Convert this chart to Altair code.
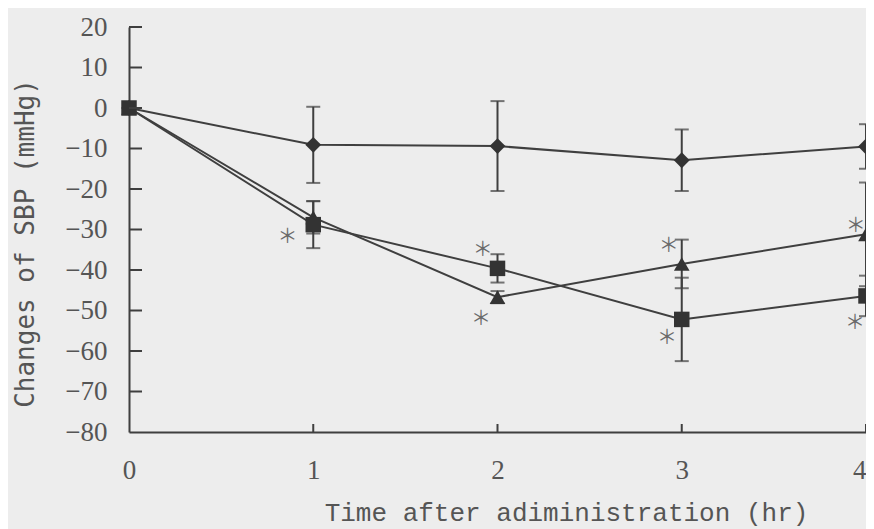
import altair as alt
import pandas as pd

# ---- data ----
times = [0, 1, 2, 3, 4]
diamond_mean = [0, -9.1, -9.4, -12.9, -9.5]
diamond_err = [0, 9.4, 11.1, 7.6, 5.5]
triangle_mean = [0, -27.0, -46.7, -38.5, -31.2]
triangle_err = [0, 4.0, 1.5, 6.0, 12.8]
square_mean = [0, -28.8, -39.6, -52.2, -46.4]
square_err = [0, 5.8, 3.5, 10.3, 5.0]

series_names = ["diamond", "triangle", "square"]
series_shapes = ["diamond", "triangle-up", "square"]
series_sizes = [250, 240, 190]

# significance asterisks (annotation positions in data units)
star_x = [0.86, 1.92, 1.91, 2.93, 2.92, 3.945, 3.94]
star_y = [-31.9, -35.1, -52.1, -34.1, -56.8, -29.1, -53.1]

x_tick_values = [0, 1, 2, 3, 4]
x_inner_ticks = [1, 2, 3, 4]
y_tick_values = [20, 10, 0, -10, -20, -30, -40, -50, -60, -70, -80]
y_inner_ticks = [20, 10, 0, -10, -20, -30, -40, -50, -60, -70]

# ---- build tables ----
rows = []
for name, means, errs in [("diamond", diamond_mean, diamond_err),
                          ("triangle", triangle_mean, triangle_err),
                          ("square", square_mean, square_err)]:
    for t, m, e in zip(times, means, errs):
        rows.append({"series": name, "time": t, "value": m, "err": e,
                     "lo": m - e, "hi": m + e})
df = pd.DataFrame(rows)
df_err = df[df["err"] > 0].copy()
stars = pd.DataFrame({"x": star_x, "y": star_y, "s": ["＊"] * len(star_x)})
xt = pd.DataFrame({"t": x_inner_ticks})
yt = pd.DataFrame({"v": y_inner_ticks})

W, H = 737, 405
LINE = "#3f3f3f"
TXT = "#555555"

xscale = alt.Scale(domain=[0, 4], nice=False, zero=False)
yscale = alt.Scale(domain=[-80, 20], nice=False, zero=False)

xaxis = alt.Axis(values=x_tick_values, format="d", ticks=False, grid=False,
                 domainColor=LINE, domainWidth=2,
                 labelFont="Liberation Serif", labelFontSize=27, labelColor=TXT,
                 labelPadding=25, labelFlush=False,
                 labelAlign={"expr": "datum.value == 4 ? 'right' : 'center'"},
                 title="Time after adiministration (hr)",
                 titleFont="Liberation Mono", titleFontSize=26,
                 titleFontWeight="normal", titleColor=TXT,
                 titleX=437, titleY=88, titleAlign="center",
                 titleBaseline="alphabetic", titleAnchor="start")
yaxis = alt.Axis(values=y_tick_values, format="d", ticks=False, grid=False,
                 domainColor=LINE, domainWidth=2,
                 labelFont="Liberation Serif", labelFontSize=27, labelColor=TXT,
                 labelPadding=22, labelFlush=False,
                 title="Changes of SBP (mmHg)",
                 titleFont="DejaVu Sans Mono", titleFontSize=26,
                 titleFontWeight="normal", titleColor=TXT,
                 titleX=-96, titleY=216, titleAngle=-90, titleAlign="center",
                 titleBaseline="alphabetic", titleAnchor="start")

base = alt.Chart(df)

lines = base.mark_line(color=LINE, strokeWidth=2).encode(
    x=alt.X("time:Q", scale=xscale, axis=xaxis),
    y=alt.Y("value:Q", scale=yscale, axis=yaxis),
    detail="series:N",
)

err_rule = alt.Chart(df_err).mark_rule(color=LINE, strokeWidth=2).encode(
    x=alt.X("time:Q", scale=xscale),
    y=alt.Y("lo:Q", scale=yscale),
    y2="hi:Q",
)
cap_lo = alt.Chart(df_err).mark_tick(color=LINE, thickness=2, size=14,
                                     orient="horizontal").encode(
    x=alt.X("time:Q", scale=xscale),
    y=alt.Y("lo:Q", scale=yscale),
)
cap_hi = alt.Chart(df_err).mark_tick(color=LINE, thickness=2, size=14,
                                     orient="horizontal").encode(
    x=alt.X("time:Q", scale=xscale),
    y=alt.Y("hi:Q", scale=yscale),
)

points = base.mark_point(filled=True, opacity=1, color="#333333").encode(
    x=alt.X("time:Q", scale=xscale),
    y=alt.Y("value:Q", scale=yscale),
    shape=alt.Shape("series:N", scale=alt.Scale(domain=series_names,
                                                  range=series_shapes),
                    legend=None),
    size=alt.Size("series:N", scale=alt.Scale(domain=series_names,
                                                range=series_sizes),
                  legend=None),
)

star_marks = alt.Chart(stars).mark_text(
    font="Noto Sans CJK JP", fontSize=20, color="#6a6a6a",
    align="center", baseline="middle").encode(
    x=alt.X("x:Q", scale=xscale),
    y=alt.Y("y:Q", scale=yscale),
    text="s:N",
)

xticks = alt.Chart(xt).mark_rule(color=LINE, strokeWidth=2).encode(
    x=alt.X("t:Q", scale=xscale),
    y=alt.value(H),
    y2=alt.value(H - 8),
)
yticks = alt.Chart(yt).mark_rule(color=LINE, strokeWidth=2).encode(
    y=alt.Y("v:Q", scale=yscale),
    x=alt.value(0),
    x2=alt.value(13),
)

chart = alt.layer(lines, err_rule, cap_lo, cap_hi, points, star_marks,
                  xticks, yticks).properties(
    width=W, height=H,
    autosize=alt.AutoSizeParams(type="none"),
    padding={"left": 121, "top": 19, "right": 0, "bottom": 97},
    background="#ededed",
).configure_view(stroke=None)

chart.save("out.html", embed_options={"renderer": "svg", "actions": False})
